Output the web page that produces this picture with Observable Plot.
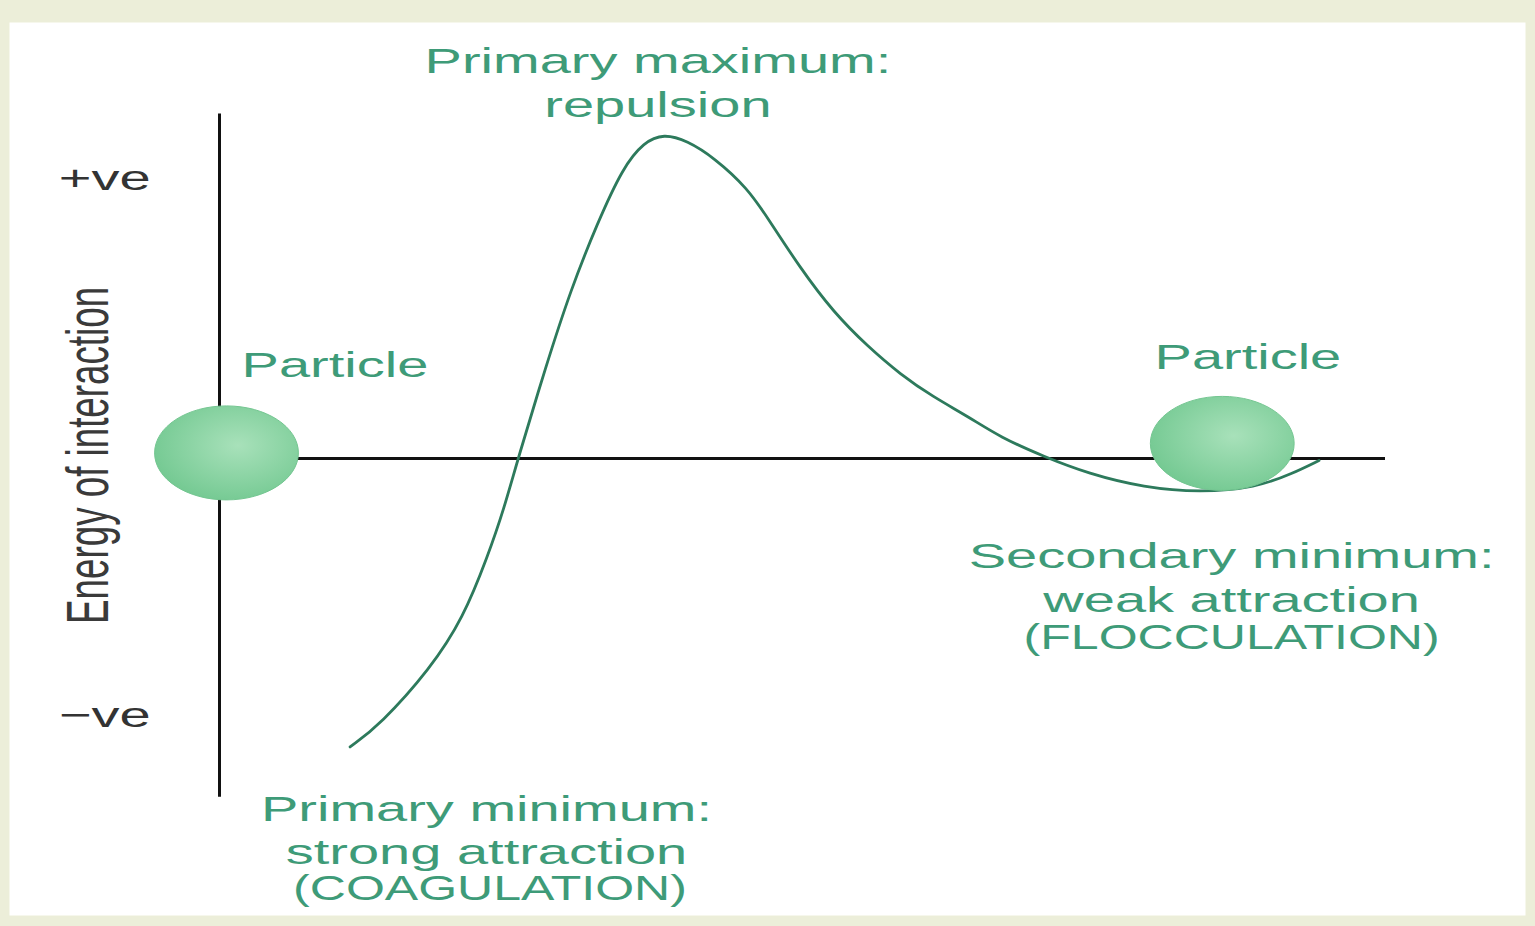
<!DOCTYPE html>
<html>
<head>
<meta charset="utf-8">
<script src="https://cdn.jsdelivr.net/npm/d3@7"></script>
<script src="https://cdn.jsdelivr.net/npm/@observablehq/plot@0.6"></script>
<style>
  html, body { margin: 0; padding: 0; background: #eceed9; overflow: hidden; }
  #chart svg { display: block; }
</style>
</head>
<body>
<div id="chart"></div>
<script>
// ---- Data (distance between particles vs. energy of interaction, arbitrary units) ----
const distance = [1.12, 1.38, 1.81, 2.09, 2.30, 2.44, 2.56, 2.80, 3.01, 3.24, 3.46, 3.64, 3.81, 4.01, 4.24, 4.53, 4.70, 4.98, 5.27, 5.56, 5.84, 6.12, 6.42, 6.70, 7.07, 7.45, 7.93, 8.41, 8.89, 9.20, 9.43];
const energy   = [-1.03, -0.95, -0.75, -0.57, -0.35, -0.18, 0.00, 0.33, 0.60, 0.84, 1.04, 1.13, 1.16, 1.135, 1.075, 0.965, 0.86, 0.68, 0.52, 0.40, 0.30, 0.22, 0.15, 0.075, 0.007, -0.054, -0.104, -0.121, -0.104, -0.054, -0.007];

const particleX = [0.06, 8.60];
const particleY = [0.02, 0.054];

const tickValues = [1, -0.92];
const tickLabels = ["+ve", "\u2212ve"];

const axisLabel = "Energy of interaction";
const particleLabel = "Particle";
const maxLabel = "Primary maximum:\nrepulsion";
const primaryMinLabel = "Primary minimum:\nstrong attraction";
const primaryMinNote = "(COAGULATION)";
const secondaryMinLabel = "Secondary minimum:\nweak attraction";
const secondaryMinNote = "(FLOCCULATION)";

// ---- Build tables ----
const curve = distance.map((d, i) => ({distance: d, energy: energy[i]}));
const particles = particleX.map((d, i) => ({x: d, y: particleY[i]}));
const ticks = tickValues.map((v, i) => ({v, label: tickLabels[i]}));

const ellipse = {
  draw(ctx, size) {
    const r = Math.sqrt(size / Math.PI);
    const a = r * 1.53, b = r, k = 0.5523;
    ctx.moveTo(a, 0);
    ctx.bezierCurveTo(a, k * b, k * a, b, 0, b);
    ctx.bezierCurveTo(-k * a, b, -a, k * b, -a, 0);
    ctx.bezierCurveTo(-a, -k * b, -k * a, -b, 0, -b);
    ctx.bezierCurveTo(k * a, -b, a, -k * b, a, 0);
    ctx.closePath();
  }
};

const green = "#3e9b78";
const fs = 35;

const chart = Plot.plot({
  width: 1535,
  height: 926,
  margin: 0,
  x: {domain: [0, 10], range: [219, 1385], axis: null},
  y: {domain: [-1, 1], range: [738, 178], axis: null},
  style: {fontFamily: "'Liberation Sans', Arial, sans-serif", background: "transparent"},
  marks: [
    Plot.frame({fill: "white", stroke: null, insetTop: 22, insetLeft: 9, insetRight: 10, insetBottom: 11}),
    Plot.ruleX([0], {y1: -1.21, y2: 1.23, stroke: "#111", strokeWidth: 3}),
    Plot.ruleY([0], {x1: 0, x2: 10, stroke: "#111", strokeWidth: 3}),
    Plot.line(curve, {x: "distance", y: "energy", curve: "basis", stroke: "#2d7a5c", strokeWidth: 2.8}),
    Plot.dot(particles, {x: "x", y: "y", r: 47, symbol: ellipse, fill: "url(#pgrad)", stroke: "#74c691", strokeWidth: 1}),
    Plot.text(ticks, {x: -0.59, y: "v", text: "label", textAnchor: "end", lineAnchor: "middle", fontSize: fs, fill: "#333"}),
    Plot.text([axisLabel], {x: -0.96, y: 0.011, text: d => d, rotate: -90, lineAnchor: "bottom", textAnchor: "middle", fontSize: fs * 1.05, fill: "#3a3a3a"}),
    Plot.text([particleLabel], {x: 0.99, y: 0.379, text: d => d, lineAnchor: "top", fontSize: fs, fill: green}),
    Plot.text([particleLabel], {x: 8.82, y: 0.407, text: d => d, lineAnchor: "top", fontSize: fs, fill: green}),
    Plot.text([maxLabel], {x: 3.76, y: 1.486, text: d => d, lineAnchor: "top", lineHeight: 1.24, fontSize: fs, fill: green}),
    Plot.text([primaryMinLabel], {x: 2.29, y: -1.186, text: d => d, lineAnchor: "top", lineHeight: 1.22, fontSize: fs, fill: green}),
    Plot.text([primaryMinNote], {x: 2.32, y: -1.489, text: d => d, lineAnchor: "top", fontSize: fs, fill: green}),
    Plot.text([secondaryMinLabel], {x: 8.68, y: -0.282, text: d => d, lineAnchor: "top", lineHeight: 1.24, fontSize: fs, fill: green}),
    Plot.text([secondaryMinNote], {x: 8.68, y: -0.593, text: d => d, lineAnchor: "top", fontSize: fs, fill: green})
  ]
});

// gradient for particles
const svg = d3.select(chart);
const defs = svg.insert("defs", ":first-child");
const grad = defs.append("radialGradient").attr("id", "pgrad").attr("cx", "58%").attr("cy", "42%").attr("r", "62%");
grad.append("stop").attr("offset", "0%").attr("stop-color", "#a8e1ba");
grad.append("stop").attr("offset", "100%").attr("stop-color", "#74c992");

// horizontally stretched lettering, as in the source figure
const capsLines = new Set([primaryMinNote, secondaryMinNote]);
svg.selectAll("text").each(function() {
  const t = d3.select(this);
  const tr = t.attr("transform") || "";
  const caps = capsLines.has(this.textContent.trim());
  if (tr.includes("rotate")) t.attr("transform", tr + " scale(1,1.6)");
  else t.attr("transform", tr + (caps ? " scale(1.43,1)" : " scale(1.6,1)"));
});

document.getElementById("chart").appendChild(chart);
</script>
</body>
</html>
